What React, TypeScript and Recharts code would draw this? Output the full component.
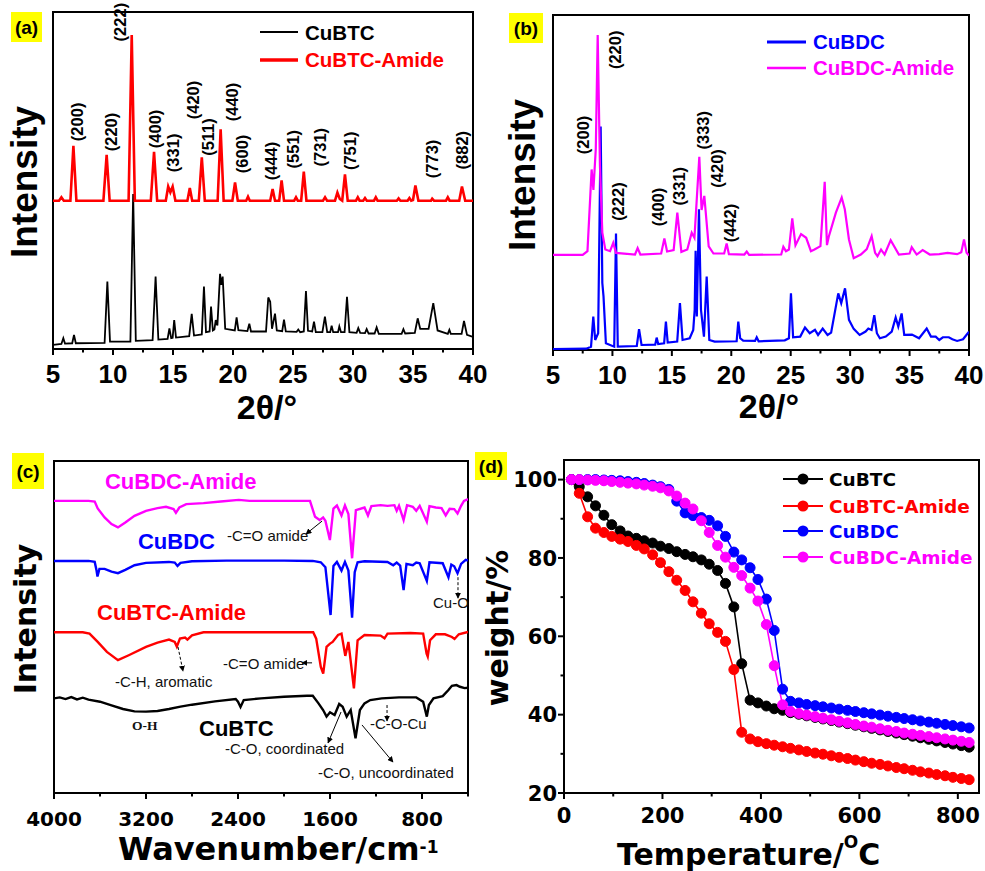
import React from 'react';
import { ComposedChart, Line, XAxis, YAxis, ReferenceArea, ReferenceDot, ReferenceLine } from 'recharts';

const SANS = '"Liberation Sans", Arial, Helvetica, sans-serif';
const DEJAVU = '"DejaVu Sans", Verdana, sans-serif';
const SERIF = '"Liberation Serif", "Times New Roman", serif';

// ---------- (a) / (b) XRD ----------
const thetaTicks = [5, 7.5, 10, 12.5, 15, 17.5, 20, 22.5, 25, 27.5, 30, 32.5, 35, 37.5, 40];
const thetaLabels = [5, 10, 15, 20, 25, 30, 35, 40];

// [2theta, intensity]
const cubtcXrd = [
  [5, 1.2], [5.7, 1.5], [5.86, 3.2], [6.0, 1.6], [6.6, 1.7], [6.75, 4.2], [6.9, 1.7], [9.3, 1.8], [9.53, 20], [9.75, 2.2],
  [11.45, 2.2], [11.68, 46], [11.9, 2.4], [13.3, 2.6], [13.55, 21.5], [13.78, 2.8], [14.55, 3], [14.7, 6.1], [14.85, 3.2],
  [14.97, 3.3], [15.1, 8.6], [15.25, 3.4], [16.35, 3.8], [16.56, 10.4], [16.75, 4], [17.4, 4.3], [17.58, 18.5], [17.75, 5],
  [18.05, 5.2], [18.17, 12.6], [18.32, 5.5], [18.45, 5.8], [18.56, 8.6], [18.7, 7], [18.92, 22.3], [19.03, 19], [19.14, 21.5],
  [19.35, 6], [20.15, 5.5], [20.3, 9.4], [20.45, 5.6], [21.2, 5.3], [21.36, 7.5], [21.5, 5.2], [22.75, 5.2], [22.94, 15.3],
  [23.1, 14], [23.25, 6], [23.5, 10.5], [23.65, 5.5], [24.1, 5.3], [24.25, 8.7], [24.4, 5.2], [25.3, 5.1], [25.44, 5.8],
  [25.6, 5], [25.9, 5.2], [26.08, 17.2], [26.25, 5.4], [26.6, 5.2], [26.75, 8.1], [26.9, 5], [27.45, 5], [27.66, 9.6],
  [27.85, 5], [28.1, 5], [28.22, 6.9], [28.35, 5], [28.75, 5], [28.86, 6.7], [29, 5], [29.3, 5], [29.5, 15.5], [29.7, 5],
  [30.3, 4.8], [30.44, 6.2], [30.6, 4.8], [31, 4.7], [31.14, 5.9], [31.3, 4.6], [31.8, 4.6], [31.97, 6.4], [32.15, 4.5],
  [34.05, 4.5], [34.2, 5.9], [34.35, 4.6], [35.15, 4.8], [35.39, 9.1], [35.6, 6], [36.3, 6], [36.69, 13.6], [37.05, 5.5],
  [37.9, 4.5], [38.03, 5.7], [38.15, 4.5], [39.05, 4.5], [39.25, 8.3], [39.5, 4.2], [40, 3.6],
];

const cubtcAmideXrd = [
  [5, 44], [5.5, 44], [5.7, 45], [5.9, 44], [6.45, 44], [6.7, 60.3], [6.95, 44], [9.2, 44], [9.47, 57.6], [9.72, 44],
  [11.3, 44], [11.56, 93.2], [11.82, 44], [13.15, 44], [13.42, 58.5], [13.68, 44], [14.4, 44], [14.6, 48.2], [14.78, 46.5],
  [14.97, 48.2], [15.2, 44], [16.2, 44], [16.4, 47.8], [16.6, 44], [17.15, 44], [17.4, 56.9], [17.65, 44], [18.72, 44],
  [18.97, 65.2], [19.22, 44], [19.95, 44], [20.17, 49.4], [20.4, 44], [21.1, 44], [21.25, 45.2], [21.4, 44], [23.1, 44],
  [23.3, 47.5], [23.5, 44], [23.85, 44], [24.05, 50], [24.25, 44], [25.1, 44], [25.25, 45], [25.4, 44], [25.68, 44],
  [25.9, 52.6], [26.12, 44], [27.5, 44], [27.67, 45], [27.84, 44], [28.5, 44], [28.7, 46.4], [28.9, 44.5], [29.1, 44],
  [29.33, 51.8], [29.56, 44], [30.25, 44], [30.4, 45], [30.55, 44], [30.85, 44], [31, 44.8], [31.15, 44], [31.75, 44],
  [31.9, 45], [32.05, 44], [33.65, 44], [33.8, 44.7], [33.95, 44], [34.55, 44], [34.7, 44.8], [34.85, 44], [35, 44.2],
  [35.2, 48.5], [35.45, 44], [36.5, 44], [36.6, 44.6], [36.75, 44], [37.75, 44], [37.9, 45], [38.05, 44], [38.85, 44],
  [39.08, 48.2], [39.35, 44], [40, 44],
];

const cubtcPeaks = [
  { hkl: '(200)', x: 7.0, y: 67.4 }, { hkl: '(220)', x: 9.83, y: 64.4 }, { hkl: '(222)', x: 10.58, y: 97 },
  { hkl: '(400)', x: 13.5, y: 65.3 }, { hkl: '(331)', x: 15.0, y: 58.2 }, { hkl: '(420)', x: 16.67, y: 73.9 },
  { hkl: '(511)', x: 17.94, y: 62.9 }, { hkl: '(440)', x: 19.9, y: 73.3 }, { hkl: '(600)', x: 20.72, y: 57.9 },
  { hkl: '(444)', x: 23.14, y: 55.8 }, { hkl: '(551)', x: 24.97, y: 59.3 }, { hkl: '(731)', x: 27.25, y: 59.9 },
  { hkl: '(751)', x: 29.75, y: 58.8 }, { hkl: '(773)', x: 36.56, y: 56.4 }, { hkl: '(882)', x: 39.06, y: 59.0 },
];

const cubdcXrd = [
  [5, 0.3], [7.8, 0.4], [8.2, 1], [8.39, 10], [8.55, 3], [8.8, 5], [9.01, 66.7], [9.15, 20], [9.25, 16], [9.45, 2],
  [10.15, 1], [10.3, 34.8], [10.45, 1], [12.05, 1.2], [12.24, 6.2], [12.45, 1.5], [13.6, 1.6], [13.72, 3.7], [13.85, 1.8],
  [14.35, 2], [14.5, 8.5], [14.65, 2.2], [15.45, 2.5], [15.68, 14], [15.9, 3], [16.5, 3.5], [16.8, 6], [16.92, 12],
  [17.0, 29.6], [17.1, 10], [17.28, 42], [17.45, 12], [17.7, 4], [17.93, 21.9], [18.15, 3], [18.6, 2.5], [20.45, 2.6],
  [20.59, 8.5], [20.75, 3.5], [21, 2.8], [22.0, 2.7], [22.14, 3.8], [22.3, 2.6], [24.5, 2.9], [24.85, 3.5], [25.02, 16.9],
  [25.2, 3.8], [25.8, 4], [26.2, 6.7], [26.6, 5], [27.04, 6], [27.3, 4.5], [27.69, 6.4], [28.1, 4.5], [28.4, 5.2],
  [29.0, 16.9], [29.25, 14], [29.57, 18.4], [29.9, 9], [30.3, 6.3], [30.8, 4.5], [31.3, 5.5], [31.53, 6.4], [31.8, 6],
  [32.03, 10.4], [32.25, 5], [32.5, 3.5], [33.0, 4], [33.5, 5.5], [33.83, 9.7], [34.05, 7], [34.33, 10.9], [34.55, 4.5],
  [35.2, 4.6], [35.8, 3.5], [36.44, 6.4], [36.8, 4], [37.2, 4], [37.5, 3], [37.8, 3.8], [38.3, 3.8], [38.6, 3.2],
  [39.0, 2.7], [39.5, 3.2], [40, 5.5],
];

const cubdcAmideXrd = [
  [5, 28.4], [7.5, 28.4], [7.9, 29.5], [8.25, 53.9], [8.4, 47.8], [8.6, 60], [8.76, 94], [8.95, 55], [9.15, 35], [9.4, 30],
  [9.8, 29.5], [10.07, 32], [10.3, 29], [11.9, 28.5], [12.12, 30.4], [12.35, 28.5], [14.1, 28.8], [14.37, 33.3],
  [14.6, 29.4], [15.15, 29.8], [15.46, 41], [15.8, 29.3], [16.3, 30], [16.67, 35], [16.9, 33.5], [17.31, 57.7],
  [17.5, 41.8], [17.73, 46], [18.1, 30.9], [18.5, 28.8], [19.4, 28.8], [19.61, 31.8], [19.8, 28.6], [21.1, 28.5],
  [21.3, 29.4], [21.5, 28.4], [24.2, 28.5], [24.38, 30.8], [24.6, 29.5], [24.85, 30], [25.13, 39.3], [25.4, 31.3],
  [25.87, 34.6], [26.3, 33.5], [26.7, 29.5], [27.0, 30], [27.5, 31], [27.86, 50.2], [28.05, 31.3], [28.2, 33.8],
  [28.8, 41], [29.29, 45.5], [29.55, 42], [29.9, 33], [30.3, 27.4], [30.9, 28.5], [31.4, 30.1], [31.81, 34], [32.1, 29],
  [32.3, 28], [32.6, 30], [32.9, 28.5], [33.41, 32.8], [34.1, 28.5], [35.0, 28.8], [35.18, 30.7], [35.6, 28.5],
  [36.1, 29.8], [36.7, 28.5], [37.5, 28.6], [38.2, 29], [39.0, 28.6], [39.35, 29.2], [39.58, 33], [39.8, 29], [40, 28.2],
];

const cubdcPeaks = [
  { hkl: '(200)', x: 7.55, y: 64.2 }, { hkl: '(220)', x: 10.22, y: 89.6 }, { hkl: '(222)', x: 10.5, y: 44.3 },
  { hkl: '(400)', x: 13.86, y: 42.7 }, { hkl: '(331)', x: 15.63, y: 48.9 }, { hkl: '(333)', x: 17.65, y: 65.6 },
  { hkl: '(420)', x: 18.83, y: 54.2 }, { hkl: '(442)', x: 19.9, y: 37.9 },
];

// ---------- (c) FTIR ----------
const wnTicks = [4000, 3600, 3200, 2800, 2400, 2000, 1600, 1200, 800, 400];
const wnLabels = [4000, 3200, 2400, 1600, 800];

// [wavenumber, offset transmittance]
const cubdcAmideIr = [
  [4000, 88], [3700, 88], [3646, 87.8], [3620, 85.7], [3560, 83], [3500, 81], [3444, 80], [3380, 81.5], [3300, 83.5],
  [3200, 85], [3100, 85.8], [3026, 86.2], [2960, 85.5], [2940, 84.4], [2910, 86], [2850, 87], [2700, 87.3], [2550, 87.8],
  [2393, 88.3], [2300, 88], [2000, 88], [1774, 88], [1730, 83.2], [1690, 82.2], [1660, 83], [1640, 82], [1601, 76.2],
  [1570, 85.7], [1540, 86.6], [1500, 83.6], [1470, 86.6], [1440, 84], [1408, 70.7], [1375, 85.2], [1300, 86], [1270, 83.6],
  [1240, 86.4], [1160, 86.7], [1100, 86.5], [1040, 86.7], [1020, 85], [1000, 86.5], [960, 82.2], [930, 86.7], [880, 86.2],
  [850, 85], [820, 86.5], [758, 81.7], [735, 86.4], [680, 86], [630, 85.8], [594, 83.6], [560, 85.6], [520, 85.5],
  [491, 84.2], [460, 86.5], [435, 88], [400, 88.5],
];

const cubdcIr = [
  [4000, 69.9], [3700, 69.9], [3646, 69.6], [3630, 67], [3622, 65.2], [3605, 67.5], [3560, 67.5], [3500, 66.7],
  [3444, 66.2], [3380, 67.2], [3300, 68.6], [3200, 69.3], [3000, 69.6], [2950, 69.4], [2926, 68.4], [2900, 69.3],
  [2800, 69.8], [2500, 70], [2000, 70], [1750, 69.9], [1680, 69.5], [1640, 68], [1595, 53.6], [1570, 68.4], [1540, 69.6],
  [1500, 67], [1470, 69.6], [1440, 67], [1408, 52.8], [1385, 66.5], [1360, 69.5], [1300, 69.8], [1100, 69.6], [1050, 68.6],
  [1020, 69.4], [990, 68.5], [960, 61.1], [935, 69], [880, 68.6], [850, 69.4], [820, 69.2], [758, 63.9], [735, 69.5],
  [620, 69.2], [570, 65], [545, 68.8], [520, 68.3], [491, 66.2], [460, 69], [420, 70.2], [400, 70],
];

const cubtcAmideIr = [
  [4000, 48.4], [3750, 48.4], [3691, 48], [3620, 45.5], [3540, 42.5], [3444, 40], [3350, 41.5], [3200, 44], [3100, 45.3],
  [3000, 46.2], [2950, 45.5], [2932, 44.1], [2905, 46.5], [2860, 46.8], [2840, 46.2], [2800, 47.5], [2700, 48.4],
  [2000, 48.4], [1746, 48.4], [1720, 46.5], [1680, 38], [1659, 36], [1630, 44], [1600, 45], [1577, 45.5], [1530, 47.6],
  [1500, 48], [1467, 41.3], [1440, 45.5], [1392, 31.5], [1360, 46], [1300, 47.6], [1160, 47.4], [1126, 46.6], [1100, 48],
  [900, 48.2], [790, 48], [760, 42], [750, 41.1], [730, 46], [680, 47.8], [600, 47.8], [540, 47], [517, 46.4], [480, 47.8],
  [400, 48.5],
];

const cubtcIr = [
  [4000, 28.5], [3950, 28.8], [3900, 28.3], [3850, 28.9], [3800, 28.2], [3750, 28.7], [3700, 28.1], [3600, 27.5],
  [3500, 26.4], [3400, 25.3], [3300, 24.6], [3200, 24.5], [3100, 24.7], [3000, 25.3], [2900, 26], [2800, 26.6],
  [2600, 27.6], [2420, 28.3], [2400, 27.5], [2378, 25.9], [2350, 28], [2200, 28.5], [2000, 29], [1800, 29.3], [1750, 29.3],
  [1700, 27], [1660, 25], [1630, 23], [1600, 24.3], [1560, 23.5], [1520, 26.8], [1490, 26], [1455, 23], [1420, 25],
  [1378, 16.5], [1340, 25], [1300, 27], [1250, 28], [1150, 28.5], [1000, 28.8], [850, 28.8], [790, 27.5], [758, 23],
  [740, 26.5], [700, 28.5], [620, 29.2], [570, 31], [540, 32.3], [500, 32.5], [470, 32], [430, 31.6], [400, 31.7],
];

// annotation anchors (wavenumber, offset value)
const irSeriesNotes = [
  { text: 'CuBDC-Amide', wn: 3557, v: 91.6 },
  { text: 'CuBDC', wn: 3270, v: 73.5 },
  { text: 'CuBTC-Amide', wn: 3626, v: 52.1 },
  { text: 'CuBTC', wn: 2739, v: 17.2 },
];
const irBandNotes = [
  { text: '-C=O amide', wn: 2496, v: 75.9 },
  { text: '-C=O amide', wn: 2530, v: 37.3 },
  { text: '-C-H, aromatic', wn: 3470, v: 31.9 },
  { text: 'Cu-O', wn: 704, v: 55.7 },
  { text: '-C-O-Cu', wn: 1252, v: 19.3 },
  { text: '-C-O, coordinated', wn: 2513, v: 11.7 },
  { text: '-C-O, uncoordinated', wn: 1704, v: 4.5 },
];
const irArrows = [
  { from: [1669, 81.9], to: [1809, 78.0], dashed: false },
  { from: [1756, 39.2], to: [1843, 39.2], dashed: false },
  { from: [2922, 44.0], to: [2878, 36.7], dashed: true },
  { from: [487, 65.0], to: [487, 58.7], dashed: true },
  { from: [1104, 26.5], to: [1104, 21.7], dashed: true },
  { from: [1504, 24.4], to: [1617, 15.1], dashed: false },
  { from: [1322, 20.5], to: [1052, 9.3], dashed: false },
];

// ---------- (d) TGA ----------
const tempTicks = [0, 100, 200, 300, 400, 500, 600, 700, 800];
const tempLabels = [0, 200, 400, 600, 800];
const weightTicks = [20, 30, 40, 50, 60, 70, 80, 90, 100];
const weightLabels = [20, 40, 60, 80, 100];

const tgaTemp = [
  15, 31, 48, 64, 81, 97, 114, 130, 147, 163, 180, 196, 213, 229, 246, 262, 279, 295, 312, 328,
  345, 361, 378, 394, 411, 427, 444, 460, 477, 493, 510, 526, 543, 559, 576, 592, 609, 625, 642, 658,
  675, 691, 708, 724, 741, 757, 774, 790, 807, 823,
];
const tgaCubtc = [
  100, 98.2, 95.6, 93.3, 90.9, 88.5, 86.9, 85.6, 85.0, 84.4, 83.8, 83.0, 82.4, 81.6, 80.9, 80.3, 79.5, 78.4, 76.8, 73.5,
  67.5, 53.0, 43.7, 43.0, 42.2, 41.5, 41.1, 40.5, 40.1, 39.7, 39.3, 38.9, 38.5, 38.1, 37.7, 37.3, 36.9, 36.5, 36.1, 35.7,
  35.3, 34.9, 34.5, 34.1, 33.7, 33.3, 32.9, 32.5, 32.1, 31.7,
];
const tgaCubtcAmide = [
  100, 96.5, 90.5, 87.6, 86.5, 85.5, 84.8, 84.2, 83.2, 82.3, 80.8, 78.8, 76.5, 74.3, 71.7, 68.8, 65.9, 63.2, 61.0, 58.7,
  51.5, 35.5, 33.8, 33.1, 32.6, 32.2, 31.8, 31.4, 31.0, 30.6, 30.2, 29.9, 29.5, 29.1, 28.8, 28.4, 28.0, 27.6, 27.3, 26.9,
  26.5, 26.2, 25.8, 25.4, 25.1, 24.7, 24.4, 24.0, 23.7, 23.4,
];
const tgaCubdc = [
  100, 100, 100, 100, 99.9, 99.8, 99.7, 99.5, 99.3, 99.0, 98.6, 98.2, 97.5, 94.5, 91.5, 90.8, 90.3, 89.6, 88.2, 85.5,
  81.5, 79.5, 77.5, 74.5, 69.5, 61.5, 46.5, 43.4, 43.0, 42.6, 42.3, 42.0, 41.7, 41.4, 41.1, 40.8, 40.5, 40.2, 39.9, 39.6,
  39.3, 39.0, 38.7, 38.4, 38.1, 37.8, 37.5, 37.2, 36.9, 36.6,
];
const tgaCubdcAmide = [
  100, 100, 99.9, 99.8, 99.7, 99.5, 99.3, 99.1, 98.9, 98.6, 98.3, 97.9, 97.1, 95.8, 94.0, 92.5, 89.5, 86.5, 83.2, 80.2,
  77.6, 75.5, 72.3, 69.0, 63.0, 52.5, 42.5, 40.8, 40.3, 39.9, 39.5, 39.1, 38.7, 38.3, 37.9, 37.5, 37.1, 36.8, 36.4, 36.0,
  35.7, 35.3, 35.0, 34.7, 34.4, 34.1, 33.8, 33.5, 33.2, 32.9,
];

const toRows = (pts: number[][]) => pts.map(([x, y]) => ({ x, y }));
const zipRows = (xs: number[], ys: number[]) => xs.map((x, i) => ({ x, y: ys[i] }));

function BottomTick(props: any) {
  const { x, y, payload, tickLabels, fontFam, fontPx, gapPx } = props;
  const major = tickLabels.includes(payload.value);
  return (
    <g>
      <line x1={x} x2={x} y1={y} y2={y + (major ? 6 : 3.5)} stroke="#000" strokeWidth={2} />
      {major && (
        <text x={x} y={y + gapPx} textAnchor="middle" fontFamily={fontFam} fontSize={fontPx} fontWeight="bold" fill="#000">
          {payload.value}
        </text>
      )}
    </g>
  );
}

function LeftTick(props: any) {
  const { x, y, payload, tickLabels, fontFam, fontPx, gapPx } = props;
  const major = tickLabels.includes(payload.value);
  return (
    <g>
      <line x1={x} x2={x - (major ? 6 : 3.5)} y1={y} y2={y} stroke="#000" strokeWidth={2} />
      {major && (
        <text x={x - gapPx} y={y} dy="0.36em" textAnchor="end" fontFamily={fontFam} fontSize={fontPx} fontWeight="bold" fill="#000">
          {payload.value}
        </text>
      )}
    </g>
  );
}

const peakLabel = (text: string) => (p: any) => (
  <text
    x={p.cx}
    y={p.cy}
    dy="0.36em"
    transform={`rotate(-90 ${p.cx} ${p.cy})`}
    textAnchor="middle"
    fontFamily={SANS}
    fontWeight="bold"
    fontSize={16.5}
    fill="#000"
  >
    {text}
  </text>
);

const noteLabel = (text: string, color: string, big: boolean) => (p: any) => (
  <text
    x={p.cx}
    y={p.cy}
    fontFamily={text === 'O-H' ? SERIF : SANS}
    fontWeight={big || text === 'O-H' ? 'bold' : 'normal'}
    fontSize={big ? 22 : text === 'O-H' ? 13.5 : 15}
    fill={color}
  >
    {text}
  </text>
);

const irColors: Record<string, string> = {
  'CuBDC-Amide': '#ff00ff',
  CuBDC: '#0000ff',
  'CuBTC-Amide': '#ff0000',
  CuBTC: '#000000',
};

function XrdChart(props: any) {
  const { width, height, margin, yWidth, xHeight, series, peaks } = props;
  return (
    <ComposedChart width={width} height={height} margin={margin}>
      <XAxis
        type="number"
        dataKey="x"
        domain={[5, 40]}
        ticks={thetaTicks}
        interval={0}
        height={xHeight}
        tickSize={0}
        tickMargin={0}
        axisLine={false}
        tickLine={false}
        allowDataOverflow
        tick={<BottomTick tickLabels={thetaLabels} fontFam={SANS} fontPx={26} gapPx={34} />}
      />
      <YAxis type="number" domain={[0, 100]} width={yWidth} tick={false} axisLine={false} tickLine={false} allowDataOverflow />
      <ReferenceArea x1={5} x2={40} y1={0} y2={100} fill="none" stroke="#000" strokeWidth={2} ifOverflow="visible" />
      {series.map((s: any) => (
        <Line
          key={s.name}
          data={s.rows}
          dataKey="y"
          type="linear"
          stroke={s.color}
          strokeWidth={s.width}
          dot={false}
          activeDot={false}
          isAnimationActive={false}
        />
      ))}
      {peaks.map((p: any) => (
        <ReferenceDot key={p.hkl + p.x} x={p.x} y={p.y} r={0} ifOverflow="visible" shape={peakLabel(p.hkl)} />
      ))}
    </ComposedChart>
  );
}

export default function App() {
  const aSeries = [
    { name: 'CuBTC', rows: toRows(cubtcXrd), color: '#000000', width: 1.8 },
    { name: 'CuBTC-Amide', rows: toRows(cubtcAmideXrd), color: '#ff0000', width: 2.6 },
  ];
  const bSeries = [
    { name: 'CuBDC', rows: toRows(cubdcXrd), color: '#0000ff', width: 2.2 },
    { name: 'CuBDC-Amide', rows: toRows(cubdcAmideXrd), color: '#ff00ff', width: 2.2 },
  ];
  const irSeries = [
    { name: 'CuBTC', rows: toRows(cubtcIr), color: '#000000' },
    { name: 'CuBTC-Amide', rows: toRows(cubtcAmideIr), color: '#ff0000' },
    { name: 'CuBDC', rows: toRows(cubdcIr), color: '#0000ff' },
    { name: 'CuBDC-Amide', rows: toRows(cubdcAmideIr), color: '#ff00ff' },
  ];
  const tgaSeries = [
    { name: 'CuBTC', rows: zipRows(tgaTemp, tgaCubtc), color: '#000000' },
    { name: 'CuBTC-Amide', rows: zipRows(tgaTemp, tgaCubtcAmide), color: '#ff0000' },
    { name: 'CuBDC', rows: zipRows(tgaTemp, tgaCubdc), color: '#0000ff' },
    { name: 'CuBDC-Amide', rows: zipRows(tgaTemp, tgaCubdcAmide), color: '#ff00ff' },
  ];
  const legendRowsD = [479, 506, 531, 557];

  return (
    <div style={{ position: 'absolute', left: 0, top: 0, width: 985, height: 871, background: '#fff', overflow: 'hidden' }}>
      {/* (a) */}
      <div style={{ position: 'absolute', left: 0, top: 0 }}>
        <XrdChart
          width={490}
          height={430}
          margin={{ top: 12, right: 17, bottom: 0, left: 0 }}
          yWidth={53}
          xHeight={81}
          series={aSeries}
          peaks={cubtcPeaks}
        />
      </div>
      {/* (b) */}
      <div style={{ position: 'absolute', left: 490, top: 0 }}>
        <XrdChart
          width={495}
          height={430}
          margin={{ top: 15, right: 16, bottom: 0, left: 0 }}
          yWidth={63}
          xHeight={80}
          series={bSeries}
          peaks={cubdcPeaks}
        />
      </div>
      {/* (c) */}
      <div style={{ position: 'absolute', left: 0, top: 430 }}>
        <ComposedChart width={490} height={441} margin={{ top: 31, right: 22, bottom: 0, left: 0 }}>
          <XAxis
            type="number"
            dataKey="x"
            domain={[400, 4000]}
            reversed
            ticks={wnTicks}
            interval={0}
            height={78}
            tickSize={0}
            tickMargin={0}
            axisLine={false}
            tickLine={false}
            allowDataOverflow
            tick={<BottomTick tickLabels={wnLabels} fontFam={DEJAVU} fontPx={20} gapPx={33} />}
          />
          <YAxis type="number" domain={[0, 100]} width={54} tick={false} axisLine={false} tickLine={false} allowDataOverflow />
          <ReferenceArea x1={400} x2={4000} y1={0} y2={100} fill="none" stroke="#000" strokeWidth={2} ifOverflow="visible" />
          {irSeries.map((s) => (
            <Line
              key={s.name}
              data={s.rows}
              dataKey="y"
              type="linear"
              stroke={s.color}
              strokeWidth={2.4}
              dot={false}
              activeDot={false}
              isAnimationActive={false}
            />
          ))}
          {irArrows.map((a, i) => (
            <ReferenceLine
              key={'arr' + i}
              segment={[{ x: a.from[0], y: a.from[1] }, { x: a.to[0], y: a.to[1] }]}
              stroke="#000"
              strokeWidth={1}
              strokeDasharray={a.dashed ? '3 2' : undefined}
              markerEnd="url(#irArrowHead)"
              ifOverflow="visible"
            />
          ))}
          {irSeriesNotes.map((n) => (
            <ReferenceDot key={n.text} x={n.wn} y={n.v} r={0} ifOverflow="visible" shape={noteLabel(n.text, irColors[n.text], true)} />
          ))}
          {irBandNotes.map((n, i) => (
            <ReferenceDot key={'band' + i} x={n.wn} y={n.v} r={0} ifOverflow="visible" shape={noteLabel(n.text, '#111', false)} />
          ))}
          <ReferenceDot x={3322} y={19} r={0} ifOverflow="visible" shape={noteLabel('O-H', '#111', false)} />
        </ComposedChart>
      </div>
      {/* (d) */}
      <div style={{ position: 'absolute', left: 490, top: 430 }}>
        <ComposedChart width={495} height={441} margin={{ top: 30, right: 6, bottom: 0, left: 0 }}>
          <XAxis
            type="number"
            dataKey="x"
            domain={[0, 843]}
            ticks={tempTicks}
            interval={0}
            height={78}
            tickSize={0}
            tickMargin={0}
            axisLine={false}
            tickLine={false}
            allowDataOverflow
            tick={<BottomTick tickLabels={tempLabels} fontFam={DEJAVU} fontPx={21} gapPx={30} />}
          />
          <YAxis
            type="number"
            domain={[20, 105]}
            ticks={weightTicks}
            interval={0}
            width={74}
            tickSize={0}
            tickMargin={0}
            axisLine={false}
            tickLine={false}
            allowDataOverflow
            tick={<LeftTick tickLabels={weightLabels} fontFam={DEJAVU} fontPx={21} gapPx={7} />}
          />
          <ReferenceArea x1={0} x2={843} y1={20} y2={105} fill="none" stroke="#000" strokeWidth={2} ifOverflow="visible" />
          {tgaSeries.map((s) => (
            <Line
              key={s.name}
              data={s.rows}
              dataKey="y"
              type="linear"
              stroke={s.color}
              strokeWidth={1.6}
              dot={{ r: 5, fill: s.color, stroke: s.color, strokeWidth: 1 }}
              activeDot={false}
              isAnimationActive={false}
            />
          ))}
        </ComposedChart>
      </div>

      {/* titles, legends and panel tags */}
      <svg width={985} height={871} style={{ position: 'absolute', left: 0, top: 0, pointerEvents: 'none' }}>
        <defs>
          <marker id="irArrowHead" viewBox="0 0 10 10" refX="9" refY="5" markerWidth="6" markerHeight="6" orient="auto">
            <path d="M0,0 L10,5 L0,10 z" fill="#000" />
          </marker>
        </defs>

        {/* panel tags */}
        {[
          { t: '(a)', x: 11, y: 12, w: 31, h: 30 },
          { t: '(b)', x: 509, y: 13, w: 34, h: 30 },
          { t: '(c)', x: 12, y: 453, w: 32, h: 36 },
          { t: '(d)', x: 475, y: 452, w: 32, h: 28 },
        ].map((b) => (
          <g key={b.t}>
            <rect x={b.x} y={b.y} width={b.w} height={b.h} fill="#ffff00" />
            <text x={b.x + b.w / 2} y={b.y + b.h / 2} dy="0.36em" textAnchor="middle" fontFamily={SANS} fontWeight="bold" fontSize={19} fill="#000">
              {b.t}
            </text>
          </g>
        ))}

        {/* (a) */}
        <line x1={260} x2={298} y1={32} y2={32} stroke="#000" strokeWidth={2} />
        <text x={305} y={39.5} fontFamily={SANS} fontWeight="bold" fontSize={20.5} fill="#000">CuBTC</text>
        <line x1={260} x2={298} y1={60} y2={60} stroke="#ff0000" strokeWidth={3.5} />
        <text x={305} y={67} fontFamily={SANS} fontWeight="bold" fontSize={20.5} fill="#ff0000">CuBTC-Amide</text>
        <text x={37} y={182} transform="rotate(-90 37 182)" textAnchor="middle" fontFamily={SANS} fontWeight="bold" fontSize={37} fill="#000">Intensity</text>
        <text x={267} y={419} textAnchor="middle" fontFamily={SANS} fontWeight="bold" fontSize={34} fill="#000">2θ/°</text>

        {/* (b) */}
        <line x1={767} x2={806} y1={42} y2={42} stroke="#0000ff" strokeWidth={3} />
        <text x={813} y={48.5} fontFamily={SANS} fontWeight="bold" fontSize={20.5} fill="#0000ff">CuBDC</text>
        <line x1={767} x2={806} y1={68} y2={68} stroke="#ff00ff" strokeWidth={2.5} />
        <text x={813} y={74.5} fontFamily={SANS} fontWeight="bold" fontSize={20.5} fill="#ff00ff">CuBDC-Amide</text>
        <text x={535} y={175} transform="rotate(-90 535 175)" textAnchor="middle" fontFamily={SANS} fontWeight="bold" fontSize={37} fill="#000">Intensity</text>
        <text x={769} y={418} textAnchor="middle" fontFamily={SANS} fontWeight="bold" fontSize={34} fill="#000">2θ/°</text>

        {/* (c) */}
        <text x={36} y={619} transform="rotate(-90 36 619)" textAnchor="middle" fontFamily={DEJAVU} fontWeight="bold" fontSize={30} fill="#000">Intensity</text>
        <text x={118} y={860} fontFamily={DEJAVU} fontWeight="bold" fontSize={32} fill="#000">
          Wavenumber/cm<tspan fontSize={17} dy={-7}>-1</tspan>
        </text>

        {/* (d) */}
        <text x={508} y={628} transform="rotate(-90 508 628)" textAnchor="middle" fontFamily={DEJAVU} fontWeight="bold" fontSize={30} fill="#000">weight/%</text>
        <text x={617} y={865} fontFamily={DEJAVU} fontWeight="bold" fontSize={30} fill="#000">
          Temperature/<tspan fontSize={17} dy={-17}>O</tspan><tspan dy={17}>C</tspan>
        </text>
        {tgaSeries.map((s, i) => (
          <g key={s.name}>
            <line x1={783} x2={823} y1={legendRowsD[i]} y2={legendRowsD[i]} stroke={s.color} strokeWidth={2} />
            <circle cx={803} cy={legendRowsD[i]} r={5.5} fill={s.color} />
            <text x={829} y={legendRowsD[i]} dy="0.36em" fontFamily={DEJAVU} fontWeight="bold" fontSize={18.5} fill={s.color}>
              {s.name}
            </text>
          </g>
        ))}
      </svg>
    </div>
  );
}
